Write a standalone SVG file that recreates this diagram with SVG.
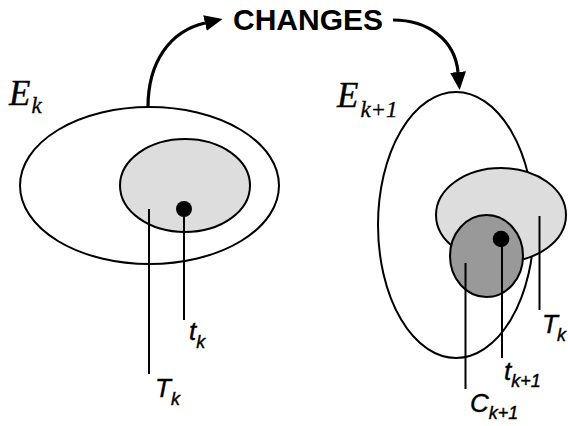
<svg xmlns="http://www.w3.org/2000/svg" width="568" height="426" viewBox="0 0 568 426">
<style>
.o{fill:none;stroke:#000;stroke-width:2}
.lt{fill:#dddddd;stroke:#000;stroke-width:2}
.dk{fill:#999999;stroke:#000;stroke-width:2}
.ln{stroke:#000;stroke-width:2}
.ar{fill:none;stroke:#000;stroke-width:3.2}
.lbl{font-family:"Liberation Sans",Arial,sans-serif;font-style:italic;font-size:26px;fill:#000;stroke:#000;stroke-width:0.4}
.sub{font-size:18px}
.E{font-family:"Liberation Serif","Times New Roman",serif;font-style:italic;font-size:35px;fill:#000;stroke:#000;stroke-width:0.4}
.Es{font-size:23px;stroke-width:0.3}
.ttl{font-family:"Liberation Sans",Arial,sans-serif;font-weight:bold;font-size:30px;fill:#000}
</style>
<defs>
<marker id="ah" markerUnits="userSpaceOnUse" markerWidth="18" markerHeight="16" viewBox="0 0 18 16" refX="0" refY="8" orient="auto">
<path d="M0,0 L18,8 L0,16 z" fill="#000"/>
</marker>
</defs>
<g id="Ek">
<ellipse class="o" cx="149.5" cy="185.5" rx="129.5" ry="78.5" fill="#fff"/>
<text class="E" x="9" y="105">E<tspan class="Es" dx="1" dy="8">k</tspan></text>
</g>
<g id="Tk-left">
<ellipse class="lt" cx="185" cy="185.5" rx="65" ry="46.5"/>
</g>
<g id="tk-left">
<circle cx="184" cy="209" r="8" fill="#000"/>
</g>
<g id="Ek1">
<ellipse class="o" cx="456" cy="225" rx="78" ry="133" fill="#fff"/>
<text class="E" x="337" y="107">E<tspan class="Es" dx="2" dy="10">k+1</tspan></text>
</g>
<g id="Tk-right">
<ellipse class="lt" cx="501" cy="215" rx="65" ry="47"/>
</g>
<g id="Ck1">
<ellipse class="dk" cx="486.5" cy="256" rx="36.5" ry="41"/>
</g>
<g id="tk1">
<circle cx="501" cy="239" r="8.3" fill="#000"/>
</g>
<g id="changes">
<text class="ttl" x="233" y="30">CHANGES</text>
</g>
<g id="connectors">
<path class="ar" d="M148,107 C148,62 170,31 205,23" marker-end="url(#ah)"/>
<path class="ar" d="M393,20 C428,20 455,40 458,72" marker-end="url(#ah)"/>
<line class="ln" x1="149" y1="209" x2="149" y2="374"/>
<line class="ln" x1="184" y1="209" x2="184" y2="320"/>
<line class="ln" x1="465.5" y1="263" x2="465.5" y2="389"/>
<line class="ln" x1="502" y1="239" x2="502" y2="358"/>
<line class="ln" x1="539.5" y1="216" x2="539.5" y2="310"/>
</g>
<g id="labels">
<text class="lbl" x="189" y="340">t<tspan class="sub" dy="8">k</tspan></text>
<text class="lbl" x="155" y="397">T<tspan class="sub" dy="8">k</tspan></text>
<text class="lbl" x="542" y="333">T<tspan class="sub" dx="-1" dy="8">k</tspan></text>
<text class="lbl" x="504" y="380">t<tspan class="sub" dy="7">k+1</tspan></text>
<text class="lbl" x="470" y="412">C<tspan class="sub" dy="7">k+1</tspan></text>
</g>
</svg>
